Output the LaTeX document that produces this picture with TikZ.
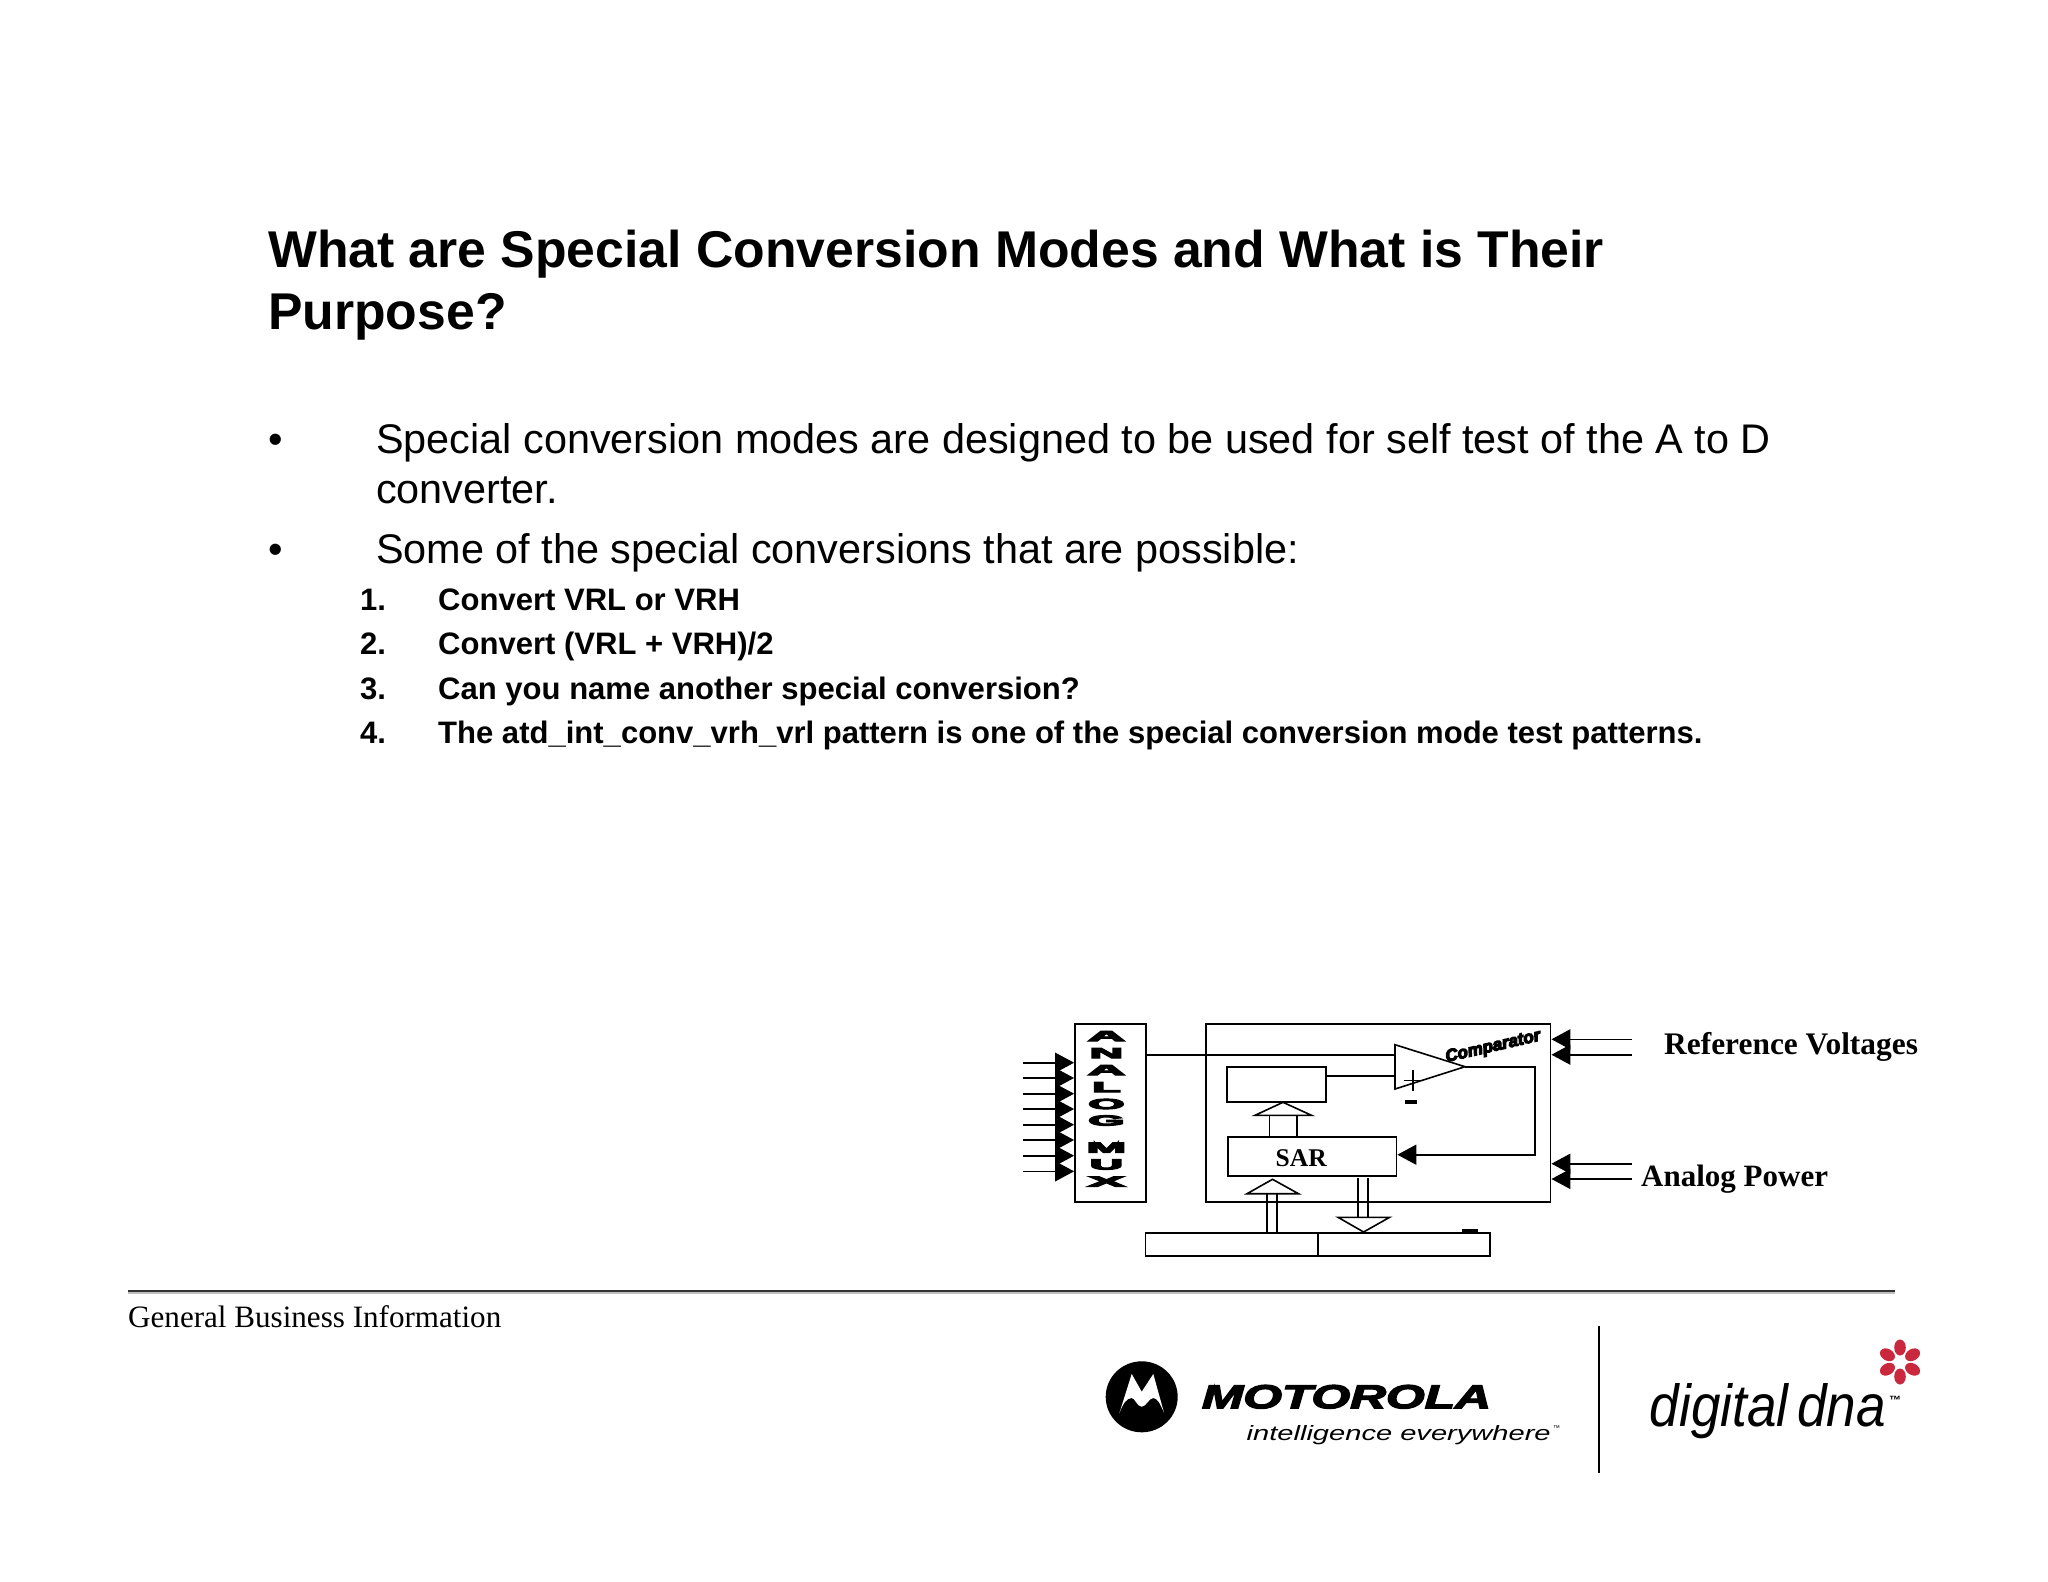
\documentclass[tikz,border=0pt]{standalone}
\usepackage{fontspec}
\usepackage{graphicx}
\usetikzlibrary{arrows.meta}
\setmainfont{Liberation Sans}
\newfontfamily\timesf{Liberation Serif}
\newfontfamily\heavyf[FakeBold=3.5]{Liberation Sans}
\newfontfamily\blackf[FakeBold=7]{Liberation Sans}
\definecolor{dnared}{HTML}{C9283E}
\tikzset{
  wire/.style={line width=1.6pt,draw=black},
  boxn/.style={draw=black,line width=1.8pt,inner sep=0pt,fill=none},
  solidarrow/.style={wire,-{Triangle[length=19pt,width=20pt]}},
  hollow/.style={line width=1.6pt,draw=black,fill=white,line join=miter},
  txt/.style={inner sep=0pt,anchor=base west,text=black},
  titletxt/.style={txt,font=\fontsize{51.7}{51.7}\selectfont\bfseries},
  bodytxt/.style={txt,font=\fontsize{41.4}{41.4}\selectfont},
  listtxt/.style={txt,font=\fontsize{31.04}{31.04}\selectfont\bfseries},
  labeltxt/.style={txt,font=\fontsize{31}{31}\selectfont\timesf\bfseries},
  muxl/.style={inner sep=0pt}
}
\newcommand{\muxletter}[4]{\node[muxl] (#1) at (1106.4,#2) {\resizebox{#3pt}{10pt}{\fontsize{40}{40}\blackf\bfseries #4}};}
\begin{document}
\begin{tikzpicture}[x=1pt,y=-1pt]
\useasboundingbox[fill=white] (0,0) rectangle (2048,1582);
% Text
\node[titletxt] (t1) at (268,267) {What are Special Conversion Modes and What is Their};
\node[titletxt] (t2) at (268,329) {Purpose?};
\node[bodytxt] (b0) at (268,453) {•};
\node[bodytxt] (b1) at (376,453) {Special conversion modes are designed to be used for self test of the A to D};
\node[bodytxt] (b2) at (376,503) {converter.};
\node[bodytxt] (b3) at (268,563) {•};
\node[bodytxt] (b4) at (376,563) {Some of the special conversions that are possible:};
\node[listtxt] (n1) at (360,610) {1.};
\node[listtxt] (l1) at (438,610) {Convert VRL or VRH};
\node[listtxt] (n2) at (360,654) {2.};
\node[listtxt] (l2) at (438,654) {Convert (VRL + VRH)/2};
\node[listtxt] (n3) at (360,699) {3.};
\node[listtxt] (l3) at (438,699) {Can you name another special conversion?};
\node[listtxt] (n4) at (360,743) {4.};
\node[listtxt] (l4) at (438,743) {The atd\_int\_conv\_vrh\_vrl pattern is one of the special conversion mode test patterns.};
% Boxes
\node[boxn,minimum width=71pt,minimum height=178.6pt] (mux) at (1110.5,1113) {};
\node[boxn,minimum width=344.5pt,minimum height=178.6pt] (main) at (1378.3,1113) {};
\node[boxn,minimum width=99pt,minimum height=35.3pt] (dac) at (1276.5,1084.3) {};
\node[boxn,minimum width=168.5pt,minimum height=39.6pt] (sar) at (1312.2,1156.5) {};
\node[txt,font=\fontsize{25.5}{25.5}\selectfont\timesf\bfseries] (sartxt) at (1275.5,1166) {SAR};
\node[boxn,minimum width=172.6pt,minimum height=23.6pt] (barl) at (1231.7,1244.5) {};
\node[boxn,minimum width=172pt,minimum height=23.6pt] (barr) at (1404,1244.5) {};
\fill[black] (1462,1229.3) rectangle (1477.6,1232.7);
% Mux letters
\muxletter{ma}{1036}{37}{A}
\muxletter{mb}{1053}{33}{N}
\muxletter{mc}{1070}{37}{A}
\muxletter{md}{1087}{28}{L}
\muxletter{me}{1104}{36}{O}
\muxletter{mf}{1120.5}{36}{G}
\muxletter{mg}{1147.5}{39}{M}
\muxletter{mh}{1164.5}{33}{U}
\muxletter{mi}{1181.5}{37}{X}
% Comparator
\coordinate (cmpa) at (1395,1044.7);
\coordinate (cmpb) at (1395,1089);
\coordinate (cmpc) at (1465,1066.7);
\draw[wire,line join=miter] (cmpa) -- (cmpc) -- (cmpb) -- cycle;
\node[inner sep=0pt,rotate=13] (cmplabel) at (1493,1047) {\resizebox{97pt}{!}{\fontsize{20}{20}\blackf\bfseries\itshape Comparator}};
\coordinate (pt) at (1413,1070);
\coordinate (pb) at (1413,1091.3);
\coordinate (pl) at (1403.5,1080.7);
\coordinate (pr) at (1423,1080.7);
\draw[line width=1.2pt] (pt) -- (pb) (pl) -- (pr);
\fill[black] (1404.5,1100) rectangle (1417,1104.3);
% Wires
\coordinate (cmpin) at (cmpa |- 0,1054.7);
\draw[wire] (mux.east |- cmpin) -- (cmpin);
\coordinate (cmpin2) at (cmpa |- 0,1075.7);
\draw[wire] (dac.east |- cmpin2) -- (cmpin2);
\coordinate (fbr) at (1535,1066.7);
\coordinate (fbd) at (1535,1154.7);
\draw[solidarrow,line join=miter] (cmpc) -- (fbr) -- (fbd) -- (sar.east |- fbd);
% Hollow arrows
\draw[hollow] (1269.4,1136.7) -- (1269.4,1115.3) (1297,1136.7) -- (1297,1115.3);
\draw[hollow] (1255,1115.3) -- (1283,1102.3) -- (1311.5,1115.3) -- cycle;
\draw[hollow] (1267,1232.7) -- (1267,1193.7) (1276.7,1232.7) -- (1276.7,1193.7);
\draw[hollow] (1247,1193.7) -- (1272.5,1179.3) -- (1298.5,1193.7) -- cycle;
\draw[hollow] (1358,1178.3) -- (1358,1217.3) (1368,1178.3) -- (1368,1217.3);
\draw[hollow] (1338,1217.3) -- (1363.6,1232) -- (1389.6,1217.3) -- cycle;
% Inputs
\foreach \i/\y in {1/1062.7,2/1078,3/1093.7,4/1109,5/1124.7,6/1140,7/1155.7,8/1171.3}{
  \coordinate (in\i) at (1023,\y);
  \draw[solidarrow] (in\i) -- (mux.west |- in\i);
}
% Right side inputs
\foreach \i/\y in {1/1039.3,2/1054.7,3/1163.7,4/1179}{
  \coordinate (rv\i) at (1632,\y);
  \draw[solidarrow] (rv\i) -- (main.east |- rv\i);
}
\node[labeltxt,font=\fontsize{31.4}{31.4}\selectfont\timesf\bfseries] (rvl) at (1664,1054) {Reference Voltages};
\node[labeltxt] (apl) at (1641,1186) {Analog Power};
% Footer
\fill[black!80] (128,1289.8) rectangle (1895,1292.2);
\fill[black!25] (128,1292.2) rectangle (1895,1293.5);
\node[txt,font=\fontsize{31.1}{31.1}\selectfont\timesf] (gbi) at (128,1327) {General Business Information};
% Motorola logo
\fill[black] (1141.7,1396.8) circle[x radius=36,y radius=35.5];
\fill[white] (1119.3,1413.3) -- (1131.7,1374) -- (1141.7,1391.7) -- (1153.3,1374) -- (1164,1412.7)
  .. controls (1160,1403) and (1157,1398) .. (1153.3,1398)
  .. controls (1149,1398) and (1146,1406.7) .. (1141.7,1406.7)
  .. controls (1137,1406.7) and (1135,1398) .. (1131.7,1398)
  .. controls (1127,1398) and (1123,1403) .. (1119.3,1413.3) -- cycle;
\node[txt] (moto) at (1201.7,1408.3) {\resizebox{289pt}{23.3pt}{\fontsize{40}{40}\heavyf\bfseries\itshape MOTOROLA}};
\node[txt] (intel) at (1246.5,1440.7) {\resizebox{304pt}{15pt}{\fontsize{30}{30}\selectfont\itshape intelligence everywhere}};
\node[txt,font=\fontsize{7}{7}\selectfont] (tma) at (1553,1430) {™};
\coordinate (sept) at (1599,1326);
\coordinate (sepb) at (1599,1472.7);
\draw[line width=2.2pt] (sept) -- (sepb);
\node[txt] (dig) at (1649.5,1426) {\resizebox{236pt}{43pt}{\fontsize{40}{40}\selectfont\itshape digital\,dna}};
\node[txt,font=\fontsize{12}{12}\selectfont\bfseries] (tmb) at (1889,1404) {™};
\foreach \a in {0,60,120,180,240,300}{
  \fill[dnared,rotate around={\a:(1900,1362)}] (1900,1347.5) ellipse[x radius=5.8,y radius=8];
}
\end{tikzpicture}
\end{document}
